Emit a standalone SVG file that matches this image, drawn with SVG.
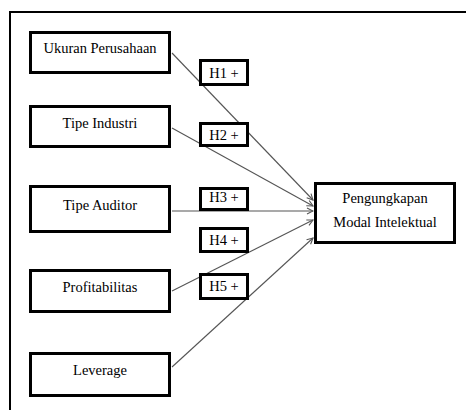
<svg xmlns="http://www.w3.org/2000/svg" width="466" height="410" viewBox="0 0 466 410">
<style>
.box{fill:#fff;stroke:#000;stroke-width:3}
.t{font-family:'Liberation Serif','DejaVu Serif',serif;font-size:14.5px;fill:#000;text-anchor:middle}
.c{stroke:#555;stroke-width:1.1;fill:none;marker-end:url(#ah)}
</style>
<defs>
<marker id="ah" markerWidth="8" markerHeight="8" refX="7" refY="4" orient="auto" markerUnits="userSpaceOnUse">
<path d="M1,1 L7,4 L1,7" fill="none" stroke="#555" stroke-width="1.1"/>
</marker>
</defs>
<rect width="466" height="410" fill="#fff"/>
<path d="M10,410 L10,12 L466,12" fill="none" stroke="#000" stroke-width="2"/>
<g id="connectors">
<line class="c" x1="172" y1="53" x2="313" y2="200"/>
<line class="c" x1="172" y1="128" x2="313" y2="206"/>
<line class="c" x1="172" y1="211" x2="313" y2="211"/>
<line class="c" x1="172" y1="291" x2="313" y2="220"/>
<line class="c" x1="172" y1="367" x2="313" y2="238"/>
</g>
<g id="ukuran"><rect class="box" x="30.5" y="32.5" width="139" height="40"/><text class="t" x="100" y="53">Ukuran Perusahaan</text></g>
<g id="industri"><rect class="box" x="30.5" y="106.5" width="139" height="40"/><text class="t" x="100" y="128">Tipe Industri</text></g>
<g id="auditor"><rect class="box" x="30.5" y="186.5" width="139" height="45"/><text class="t" x="100" y="210">Tipe Auditor</text></g>
<g id="profit"><rect class="box" x="30.5" y="270.5" width="139" height="41"/><text class="t" x="100" y="292">Profitabilitas</text></g>
<g id="leverage"><rect class="box" x="30.5" y="353.5" width="139" height="42"/><text class="t" x="100" y="375">Leverage</text></g>
<g id="h1"><rect class="box" x="200.5" y="60.5" width="47" height="24"/><text class="t" x="224" y="78">H1 +</text></g>
<g id="h2"><rect class="box" x="200.5" y="123.5" width="47" height="22"/><text class="t" x="224" y="140">H2 +</text></g>
<g id="h3"><rect class="box" x="200.5" y="188.5" width="47" height="21"/><text class="t" x="224" y="202">H3 +</text></g>
<g id="h4"><rect class="box" x="200.5" y="228.5" width="47" height="23"/><text class="t" x="224" y="245">H4 +</text></g>
<g id="h5"><rect class="box" x="200.5" y="274.5" width="47" height="24"/><text class="t" x="224" y="291">H5 +</text></g>
<g id="target"><rect class="box" x="315.5" y="183.5" width="139" height="59"/><text class="t" x="385" y="203">Pengungkapan</text><text class="t" x="385" y="227">Modal Intelektual</text></g>
</svg>
